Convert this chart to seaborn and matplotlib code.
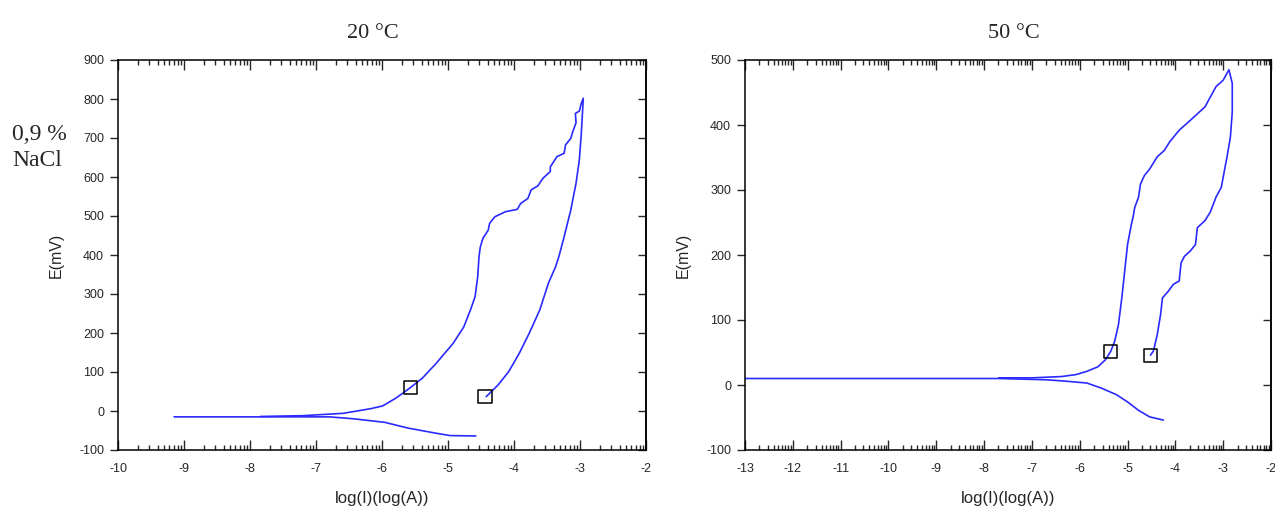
import numpy as np
import matplotlib
matplotlib.use("Agg")
import matplotlib.pyplot as plt
import seaborn as sns

# ---- 20 °C panel ----
l_cath_x = [-9.15, -8.5, -7.8, -7.2, -6.8, -6.43, -5.96, -5.60, -5.18, -4.97, -4.58]
l_cath_y = [-15, -15, -15, -15, -15, -20, -29, -44, -57, -63, -64]

l_anod_x = [-7.84, -7.2, -6.59, -6.38, -6.17, -5.99, -5.80, -5.65, -5.57, -5.39,
            -5.18, -4.92, -4.76, -4.66, -4.59, -4.55, -4.53, -4.51, -4.47, -4.39,
            -4.37, -4.29, -4.13, -3.95, -3.90, -3.79, -3.74, -3.64, -3.56, -3.45,
            -3.45, -3.35, -3.24, -3.22, -3.14, -3.11, -3.06, -3.07, -3.01, -2.98, -2.95]
l_anod_y = [-14, -12, -6, 0, 6, 13, 32, 50, 60, 84,
            122, 174, 216, 259, 293, 344, 396, 421, 443, 464,
            481, 498, 511, 517, 532, 545, 567, 577, 597, 614,
            626, 652, 661, 682, 699, 716, 739, 763, 769, 789, 802]

l_ret_x = [-2.95, -2.98, -3.01, -3.06, -3.14, -3.24, -3.32, -3.37, -3.48, -3.61,
           -3.77, -3.92, -4.08, -4.24, -4.42]
l_ret_y = [802, 712, 644, 584, 515, 447, 396, 370, 327, 259, 199, 148, 101, 67, 37]

l_sq_x = [-5.57, -4.44]
l_sq_y = [60, 37]

# ---- 50 °C panel ----
r_cath_x = [-13, -11, -9, -7.7, -6.69, -6.31, -5.85, -5.54, -5.23, -5.0, -4.77, -4.54, -4.25]
r_cath_y = [10, 10, 10, 10, 8, 6, 3, -5, -15, -26, -39, -49, -54]

r_anod_x = [-7.69, -7.0, -6.38, -6.08, -5.85, -5.62, -5.46, -5.35, -5.27, -5.19,
            -5.12, -5.06, -5.0, -4.92, -4.88, -4.85, -4.77, -4.73, -4.65, -4.54,
            -4.38, -4.23, -4.12, -3.92, -3.69, -3.38, -3.15, -3.0, -2.88]
r_anod_y = [11, 11, 13, 16, 21, 28, 39, 52, 67, 93,
            134, 175, 216, 247, 260, 273, 289, 309, 322, 332,
            351, 361, 374, 392, 407, 428, 459, 469, 485]

r_ret_x = [-2.88, -2.81, -2.81, -2.85, -2.92, -3.04, -3.15, -3.27, -3.38, -3.54,
           -3.58, -3.69, -3.81, -3.88, -3.92, -4.04, -4.15, -4.27, -4.31, -4.38,
           -4.46, -4.52]
r_ret_y = [485, 464, 420, 381, 351, 304, 289, 266, 253, 242,
           216, 206, 198, 188, 160, 155, 144, 134, 108, 77, 52, 46]

r_sq_x = [-5.35, -4.52]
r_sq_y = [52, 46]

sns.set_style("ticks")
plt.rcParams['font.family'] = ['Liberation Sans', 'DejaVu Sans']
plt.rcParams['axes.unicode_minus'] = False

blue = "#2a2aff"
fig = plt.figure(figsize=(12.75, 5.14), dpi=100)
ax1 = fig.add_axes([118 / 1275, 1 - 450 / 514, (646 - 118) / 1275, 390 / 514])
ax2 = fig.add_axes([745 / 1275, 1 - 450 / 514, (1271 - 745) / 1275, 390 / 514])


def style_axis(ax, xlo, xhi, ylo, yhi, ystep, title, tx):
    ax.set_xlim(xlo, xhi)
    ax.set_ylim(ylo, yhi)
    ax.set_xticks(np.arange(xlo, xhi + 1, 1))
    minors = [k + np.log10(m) for k in range(xlo, xhi) for m in range(2, 10)]
    ax.set_xticks(minors, minor=True)
    yt = np.arange(ylo, yhi + 1, ystep)
    ax.set_yticks(yt)
    ax.tick_params(axis='x', which='both', direction='in', top=True, bottom=True,
                   labelsize=9, pad=9, width=1)
    ax.tick_params(axis='x', which='major', length=7)
    ax.tick_params(axis='x', which='minor', length=3.5)
    ax.tick_params(axis='y', direction='out', left=True, right=False, length=6,
                   labelsize=9, pad=4, width=1)
    sec = ax.secondary_yaxis('right')
    sec.set_yticks(yt)
    sec.tick_params(direction='in', length=6, width=1, labelright=False)
    for s in list(ax.spines.values()) + [sec.spines['right']]:
        s.set_linewidth(1.1)
        s.set_color("black")
    ax.set_xlabel("log(I)(log(A))", fontsize=12, labelpad=12)
    ax.set_ylabel("E(mV)", fontsize=11.5, labelpad=11)
    ax.set_title(title, fontsize=16, family='Liberation Serif', pad=16, x=tx)


def draw(ax, cx, cy, ax_, ay, rx, ry, sx, sy):
    sns.lineplot(x=cx, y=cy, ax=ax, sort=False, estimator=None, color=blue, lw=1.2)
    sns.lineplot(x=ax_ + rx, y=ay + ry, ax=ax, sort=False, estimator=None, color=blue, lw=1.2)
    sns.scatterplot(x=sx, y=sy, ax=ax, marker='s', s=90, facecolor='none',
                    edgecolor='black', linewidth=1.1, zorder=5)


draw(ax1, l_cath_x, l_cath_y, l_anod_x, l_anod_y, l_ret_x, l_ret_y, l_sq_x, l_sq_y)
draw(ax2, r_cath_x, r_cath_y, r_anod_x, r_anod_y, r_ret_x, r_ret_y, r_sq_x, r_sq_y)
style_axis(ax1, -10, -2, -100, 900, 100, "20 °C", 0.483)
style_axis(ax2, -13, -2, -100, 500, 100, "50 °C", 0.511)

fig.text(12 / 1275, 1 - 135 / 514, "0,9 %", fontsize=17, family='Liberation Serif',
         ha='left', va='center')
fig.text(12 / 1275, 1 - 160 / 514, "NaCl", fontsize=17, family='Liberation Serif',
         ha='left', va='center')

fig.savefig("out.png", dpi=100)
